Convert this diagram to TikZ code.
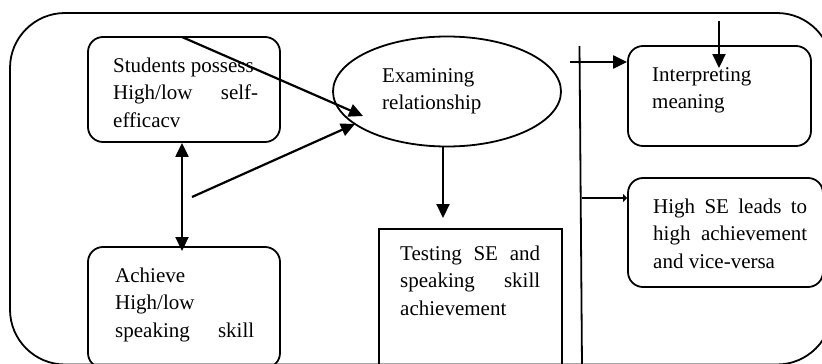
\documentclass[tikz,border=0pt]{standalone}
\usepackage{fontspec}
\setmainfont{Liberation Serif}
\usetikzlibrary{arrows.meta,shapes.geometric}
\begin{document}
\begin{tikzpicture}[x=1pt,y=-1pt,
  lbl/.style={inner sep=0pt, anchor=north west, align=left, font=\fontsize{21}{27.5}\selectfont},
  rbox/.style={draw, line width=1.8pt, rounded corners=15pt, inner sep=0pt},
  sbox/.style={draw, line width=1.8pt, inner sep=0pt},
  ebox/.style={draw, line width=1.8pt, ellipse, inner sep=0pt},
  arr/.style={line width=2.2pt, -{Triangle[length=14pt,width=13pt]}},
  darr/.style={line width=2.2pt, {Triangle[length=14pt,width=13pt]}-{Triangle[length=14pt,width=13pt]}},
  sarr/.style={line width=2.2pt, -{Triangle[length=4pt,width=8pt]}},
  frame/.style={line width=1.8pt, rounded corners=55pt},
]
\clip (0,0) rectangle (822,364);
\draw[frame] (10,13) rectangle (832,364.5);

% boxes
\node[rbox, minimum width=192pt, minimum height=105pt] (A) at (184,89.5) {};
\node[rbox, minimum width=192pt, minimum height=121pt] (B) at (184,307.5) {};
\node[ebox, minimum width=228pt, minimum height=110pt] (E) at (447,91.5) {};
\node[sbox, minimum width=183pt, minimum height=143pt] (T) at (470.5,300.5) {};
\node[rbox, minimum width=183pt, minimum height=100pt] (I) at (719.5,96) {};
\node[rbox, minimum width=195pt, minimum height=109pt] (H) at (725.5,232.5) {};

% texts
\node[lbl] (tA) at (113,52.75) {\strut Students possess\\\makebox[145pt][s]{High/low self-}\\efficacv};
\node[lbl] (tB) at (115,262.75) {\strut Achieve\\High/low\\\makebox[139pt][s]{speaking skill}};
\node[lbl] (tE) at (382,62.75) {\strut Examining\\relationship};
\node[lbl] (tT) at (400,240.75) {\strut\makebox[140pt][s]{Testing SE and}\\\makebox[140pt][s]{speaking skill}\\achievement};
\node[lbl] (tI) at (652,61.75) {\strut Interpreting\\meaning};
\node[lbl] (tH) at (653,193.75) {\strut\makebox[154pt][s]{High SE leads to}\\\makebox[154pt][s]{high achievement}\\and vice-versa};

% coordinates
\coordinate (a1s) at (182,37);
\coordinate (a1e) at (363,116);
\coordinate (a2s) at (192,197);
\coordinate (a2e) at (355,124);
\coordinate (dB) at (182,251);
\coordinate (eT) at (443,218);
\coordinate (vTop) at (579.5,46);
\coordinate (vBot) at (582,366);
\coordinate (iS) at (570,62);
\coordinate (iTop) at (719,21);
\coordinate (iEnd) at (719,68);
\coordinate (hS) at (582,198);

% connectors
\draw[arr] (a1s) -- (a1e);
\draw[arr] (a2s) -- (a2e);
\draw[darr] (A.south -| dB) -- (dB);
\draw[arr] (E.south -| eT) -- (eT);
\draw[line width=1.8pt] (vTop) -- (vBot);
\draw[arr] (iS) -- (iS -| I.west);
\draw[arr] (iTop) -- (iEnd);
\draw[sarr] (hS) -- (hS -| H.west);
\end{tikzpicture}
\end{document}
